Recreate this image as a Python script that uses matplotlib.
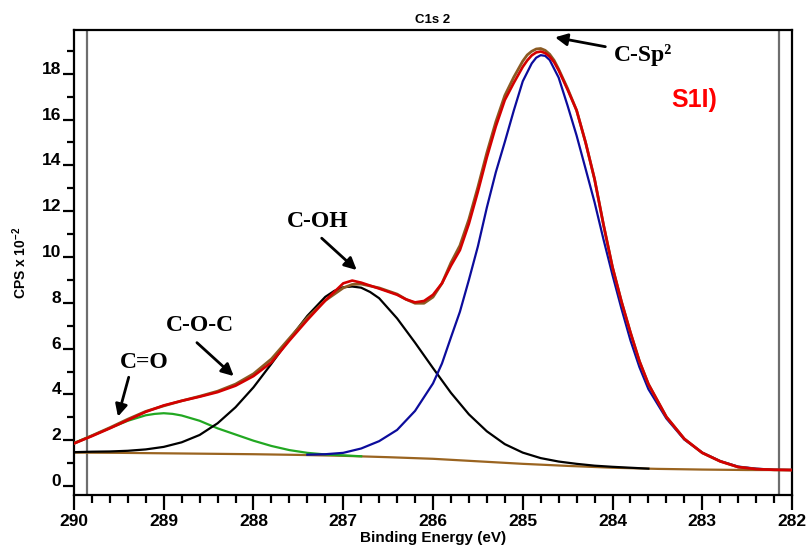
import matplotlib
matplotlib.use('Agg')
import matplotlib.pyplot as plt
from matplotlib.ticker import MultipleLocator

plt.rcParams['font.family'] = ['Liberation Sans', 'DejaVu Sans']
plt.rcParams['mathtext.fontset'] = 'custom'
plt.rcParams['mathtext.rm'] = 'Liberation Sans'
plt.rcParams['mathtext.bf'] = 'Liberation Sans:bold'
plt.rcParams['lines.solid_joinstyle'] = 'round'

# measured spectrum (raw data, red) and fit envelope (brown)
env_x = [290.0, 289.8, 289.6, 289.4, 289.2, 289.0, 288.8, 288.6, 288.4, 288.2,
         288.0, 287.8, 287.6, 287.4, 287.2, 287.0, 286.9, 286.8, 286.6, 286.4,
         286.3, 286.2, 286.1, 286.0, 285.9, 285.8, 285.7, 285.6, 285.5, 285.4,
         285.3, 285.2, 285.1, 285.0, 284.95, 284.9, 284.85, 284.8, 284.75, 284.7,
         284.65, 284.6, 284.5, 284.4, 284.3, 284.2, 284.1, 284.0, 283.9, 283.8,
         283.7, 283.6, 283.4, 283.2, 283.0, 282.8, 282.6, 282.4, 282.2, 282.0]
raw_y = [1.86, 2.18, 2.52, 2.88, 3.24, 3.52, 3.72, 3.90, 4.10, 4.38,
         4.80, 5.40, 6.35, 7.25, 8.10, 8.85, 8.97, 8.88, 8.62, 8.35,
         8.15, 8.02, 8.08, 8.35, 8.85, 9.62, 10.30, 11.45, 12.85, 14.35,
         15.70, 16.85, 17.60, 18.30, 18.58, 18.80, 18.93, 18.97, 18.90, 18.75,
         18.50, 18.15, 17.30, 16.40, 15.00, 13.40, 11.40, 9.55, 8.05, 6.70,
         5.45, 4.45, 3.02, 2.06, 1.45, 1.08, 0.83, 0.74, 0.71, 0.70]
fit_y = [1.86, 2.20, 2.55, 2.92, 3.26, 3.50, 3.72, 3.92, 4.14, 4.45,
         4.90, 5.55, 6.45, 7.35, 8.10, 8.65, 8.80, 8.82, 8.65, 8.38,
         8.15, 7.98, 7.98, 8.25, 8.85, 9.75, 10.50, 11.65, 13.05, 14.55,
         15.90, 17.05, 17.85, 18.55, 18.82, 18.98, 19.08, 19.10, 19.02, 18.85,
         18.58, 18.20, 17.35, 16.40, 15.00, 13.40, 11.40, 9.55, 8.05, 6.70,
         5.45, 4.45, 3.02, 2.06, 1.45, 1.08, 0.83, 0.74, 0.71, 0.70]

# Shirley background
bg_x = [290.0, 289.5, 289.0, 288.5, 288.0, 287.5, 287.0, 286.5, 286.0,
        285.5, 285.0, 284.5, 284.0, 283.5, 283.0, 282.5, 282.0]
bg_y = [1.46, 1.45, 1.43, 1.41, 1.39, 1.36, 1.32, 1.26, 1.19,
        1.08, 0.97, 0.88, 0.80, 0.75, 0.72, 0.70, 0.70]

# C=O component (green)
co_x = [290.0, 289.8, 289.6, 289.4, 289.2, 289.1, 289.0, 288.9, 288.8, 288.6,
        288.4, 288.2, 288.0, 287.8, 287.6, 287.4, 287.2, 287.0, 286.8]
co_y = [1.88, 2.20, 2.53, 2.85, 3.09, 3.15, 3.18, 3.15, 3.08, 2.85,
        2.52, 2.25, 1.98, 1.75, 1.57, 1.45, 1.38, 1.34, 1.30]

# C-OH component (black)
coh_x = [290.0, 289.8, 289.6, 289.4, 289.2, 289.0, 288.8, 288.6, 288.4, 288.2,
         288.0, 287.8, 287.6, 287.4, 287.2, 287.1, 287.0, 286.9, 286.8, 286.7,
         286.6, 286.4, 286.2, 286.0, 285.8, 285.6, 285.4, 285.2, 285.0, 284.8,
         284.6, 284.4, 284.2, 284.0, 283.8, 283.6]
coh_y = [1.48, 1.50, 1.51, 1.54, 1.60, 1.71, 1.91, 2.23, 2.74, 3.44,
         4.31, 5.34, 6.41, 7.43, 8.26, 8.52, 8.68, 8.71, 8.66, 8.47,
         8.20, 7.32, 6.26, 5.15, 4.07, 3.13, 2.39, 1.83, 1.46, 1.22,
         1.07, 0.97, 0.89, 0.84, 0.80, 0.76]

# C-Sp2 component (blue)
csp_x = [287.4, 287.2, 287.0, 286.8, 286.6, 286.4, 286.2, 286.0,
         285.9, 285.8, 285.7, 285.6, 285.5, 285.4, 285.3, 285.2, 285.1, 285.0,
         284.9, 284.85, 284.8, 284.75, 284.7, 284.6, 284.5, 284.4, 284.3, 284.2,
         284.1, 284.0, 283.9, 283.8, 283.7, 283.6,
         283.4, 283.2, 283.0, 282.8, 282.6, 282.4, 282.2, 282.0]
csp_y = [1.37, 1.39, 1.45, 1.64, 1.96, 2.45, 3.28, 4.48,
         5.35, 6.49, 7.61, 9.00, 10.46, 12.16, 13.70, 15.02, 16.39, 17.67,
         18.45, 18.70, 18.81, 18.78, 18.60, 17.83, 16.60, 15.30, 13.85, 12.39,
         10.76, 9.21, 7.74, 6.36, 5.19, 4.23,
         2.95, 2.03, 1.46, 1.09, 0.85, 0.76, 0.71, 0.70]

# labels and arrows: text, text pos, arrow tail, arrow head
labels = ['C-OH', 'C-O-C', 'C=O', 'C-Sp\u00b2']
label_pos = [(287.29, 11.53), (288.60, 7.03), (289.22, 5.39), (283.99, 18.82)]
arrow_from = [(287.24, 10.82), (288.63, 6.26), (289.39, 4.75), (284.08, 19.18)]
arrow_to = [(286.85, 9.43), (288.22, 4.80), (289.51, 3.03), (284.64, 19.59)]
cursor_x = [289.85, 282.15]

fig = plt.figure(figsize=(8.11, 5.53), dpi=100)
ax = fig.add_axes([0.0912, 0.1049, 0.8854, 0.8409])

for xv in cursor_x:
    ax.axvline(xv, color='#6e6e6e', lw=1.6, zorder=1)

ax.plot(bg_x, bg_y, color='#9a6420', lw=1.6, zorder=2)
ax.plot(co_x, co_y, color='#22a822', lw=1.6, zorder=3)
ax.plot(coh_x, coh_y, color='black', lw=1.6, zorder=3)
ax.plot(csp_x, csp_y, color='#0c0c9c', lw=1.6, zorder=3)
ax.plot(env_x, fit_y, color='#8b5a22', lw=2.0, zorder=4)
ax.plot(env_x, raw_y, color='#d40000', lw=1.9, zorder=5)

for txt, pos, a, b in zip(labels, label_pos, arrow_from, arrow_to):
    ha = 'left' if 'Sp' in txt else 'center'
    ax.text(pos[0], pos[1], txt, ha=ha, va='center', fontsize=17,
            fontweight='bold', family='Liberation Serif')
    ax.annotate('', xy=b, xytext=a,
                arrowprops=dict(arrowstyle='-|>', color='black', lw=2,
                                mutation_scale=18, shrinkA=0, shrinkB=0))

ax.text(283.09, 16.86, 'S1I)', color='#ff0000', fontsize=18,
        fontweight='bold', ha='center', va='center')

ax.set_xlim(290, 282)
ax.set_ylim(-0.39, 19.91)
ax.xaxis.set_major_locator(MultipleLocator(1))
ax.xaxis.set_minor_locator(MultipleLocator(0.2))
ax.yaxis.set_major_locator(MultipleLocator(2))
ax.yaxis.set_minor_locator(MultipleLocator(1))

for s in ax.spines.values():
    s.set_linewidth(1.6)
ax.tick_params(axis='x', which='major', direction='out', length=11, width=1.6,
               pad=3, labelsize=12.5)
ax.tick_params(axis='x', which='minor', direction='out', length=6, width=1.6)
ax.tick_params(axis='y', which='major', direction='out', length=8, width=1.6,
               pad=1, labelsize=12.5)
ax.tick_params(axis='y', which='minor', direction='out', length=5, width=1.6)
for lbl in ax.get_xticklabels() + ax.get_yticklabels():
    lbl.set_fontweight('bold')
for lbl in ax.get_yticklabels():
    lbl.set_verticalalignment('baseline')

ax.set_title('C1s 2', fontsize=9.5, fontweight='bold', pad=5)
ax.set_xlabel('Binding Energy (eV)', fontsize=11, fontweight='bold', labelpad=1)
ax.set_ylabel(r'CPS x 10$^{\mathbf{-2}}$', fontsize=10, fontweight='bold',
              labelpad=9)

fig.savefig('out.png', dpi=100)
